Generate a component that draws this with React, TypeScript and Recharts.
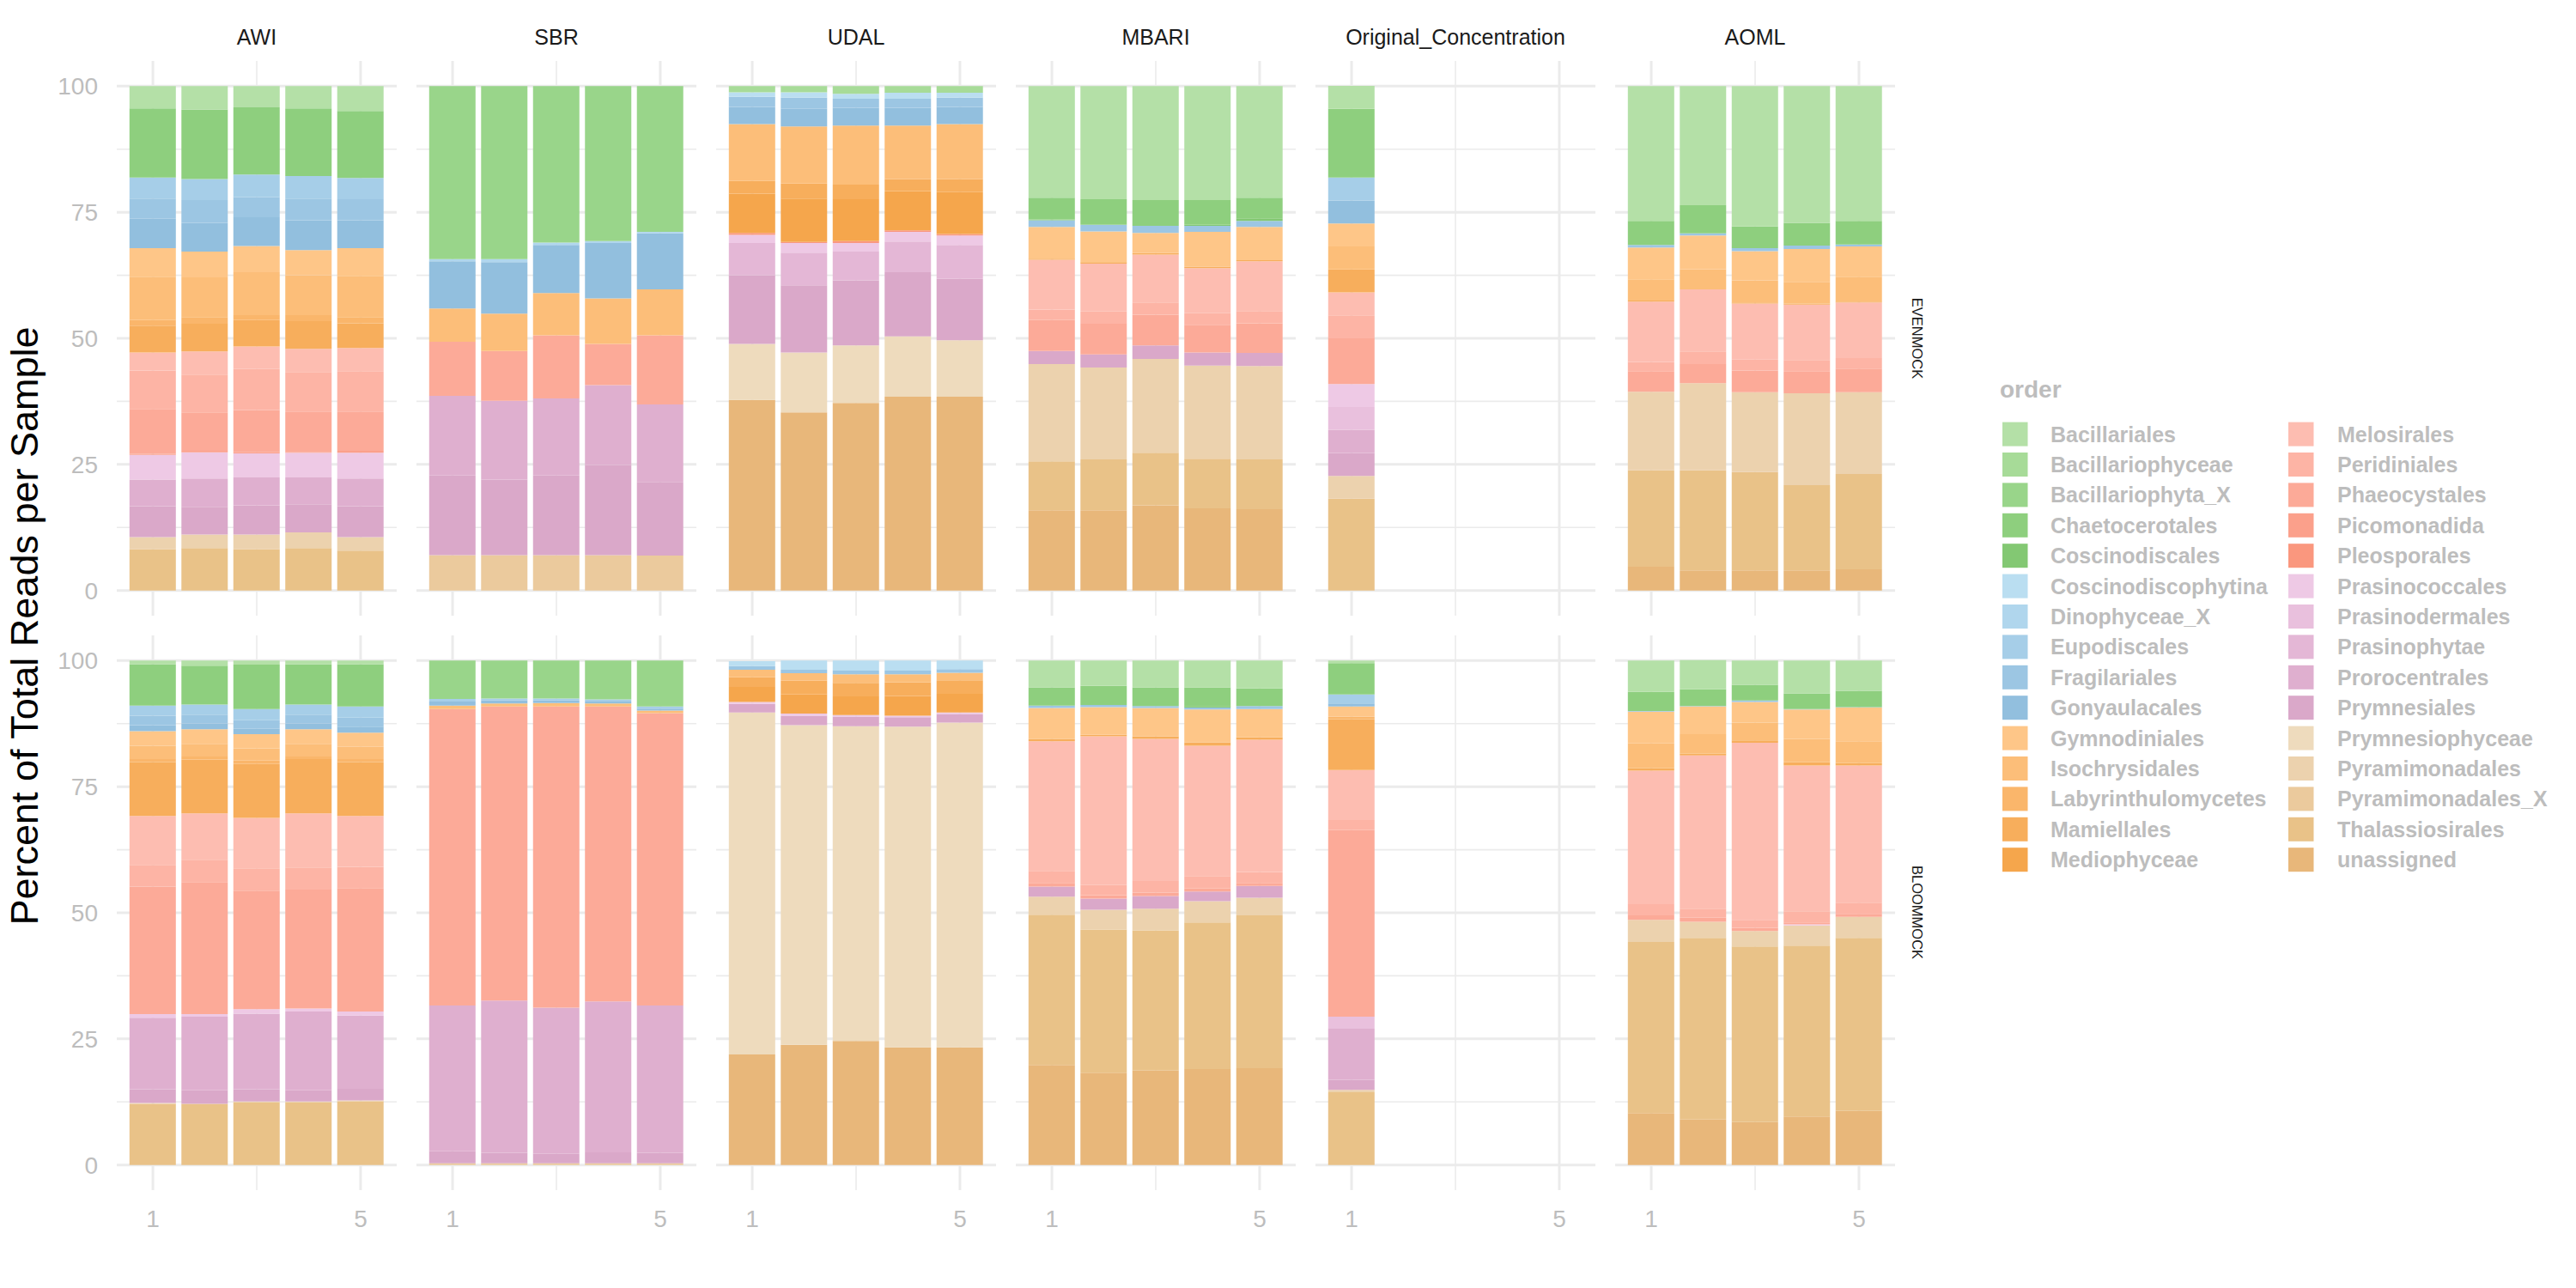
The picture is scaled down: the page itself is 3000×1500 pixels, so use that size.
import React from 'react';
import { BarChart, Bar, XAxis, YAxis, CartesianGrid } from 'recharts';

// stack order follows the legend: first entry sits on top of each bar
const orders = [
  'Bacillariales', 'Bacillariophyceae', 'Bacillariophyta_X', 'Chaetocerotales', 'Coscinodiscales',
  'Coscinodiscophytina', 'Dinophyceae_X', 'Eupodiscales', 'Fragilariales', 'Gonyaulacales',
  'Gymnodiniales', 'Isochrysidales', 'Labyrinthulomycetes', 'Mamiellales', 'Mediophyceae',
  'Melosirales', 'Peridiniales', 'Phaeocystales', 'Picomonadida', 'Pleosporales',
  'Prasinococcales', 'Prasinodermales', 'Prasinophytae', 'Prorocentrales', 'Prymnesiales',
  'Prymnesiophyceae', 'Pyramimonadales', 'Pyramimonadales_X', 'Thalassiosirales', 'unassigned',
];

const orderColors = [
  '#B4E0A7', '#A7DB98', '#99D58A', '#8ECF7E', '#83C873',
  '#BADEF1', '#B0D6ED', '#A6CEE8', '#9CC6E3', '#92BFDE',
  '#FEC688', '#FCBE79', '#FAB66B', '#F7AE5C', '#F5A64C',
  '#FDBDB1', '#FDB4A5', '#FCAA98', '#FBA08B', '#FA977E',
  '#EEC9E5', '#E9C0DD', '#E4B7D6', '#DFAFCF', '#DAA8C9',
  '#EEDBBD', '#ECD2AE', '#EBCA9D', '#E9C288', '#E8B77A',
];

const sites = ['AWI', 'SBR', 'UDAL', 'MBARI', 'Original_Concentration', 'AOML'];
const mocks = ['EVENMOCK', 'BLOOMMOCK'];
const samples = [1, 2, 3, 4, 5];
const yTicks = [0, 25, 50, 75, 100];
const yMinor = [12.5, 37.5, 62.5, 87.5];
const xTicks = [1, 5];
const xMinor = [3];

type Entry = [string, number[]];

// ---- EVENMOCK ----
const awiEven: Entry[] = [
  ['Bacillariales', [4.4, 4.6, 4.2, 4.4, 4.9]],
  ['Chaetocerotales', [13.7, 13.8, 13.3, 13.4, 13.3]],
  ['Eupodiscales', [4.2, 4.2, 4.5, 4.5, 4.2]],
  ['Fragilariales', [4.0, 4.5, 4.0, 4.3, 4.2]],
  ['Gonyaulacales', [5.8, 5.7, 5.7, 5.9, 5.5]],
  ['Gymnodiniales', [5.7, 5.1, 5.2, 5.0, 5.5]],
  ['Isochrysidales', [8.6, 7.9, 8.5, 7.9, 8.2]],
  ['Labyrinthulomycetes', [1.1, 1.3, 1.0, 1.2, 1.2]],
  ['Mamiellales', [5.3, 5.5, 5.2, 5.5, 4.9]],
  ['Melosirales', [3.6, 4.6, 4.5, 4.6, 4.6]],
  ['Peridiniales', [7.6, 7.5, 8.1, 7.8, 8.0]],
  ['Phaeocystales', [8.9, 7.6, 8.4, 8.0, 7.8]],
  ['Picomonadida', [0.2, 0.3, 0.2, 0.2, 0.4]],
  ['Prasinococcales', [4.9, 5.2, 4.8, 4.9, 5.1]],
  ['Prorocentrales', [5.3, 5.6, 5.5, 5.3, 5.5]],
  ['Prymnesiales', [6.1, 5.5, 5.8, 5.6, 6.1]],
  ['Pyramimonadales', [2.4, 2.7, 2.9, 3.1, 2.7]],
  ['Thalassiosirales', [8.2, 8.4, 8.2, 8.4, 7.9]],
];

const sbrEven: Entry[] = [
  ['Bacillariophyta_X', [34.3, 34.3, 31.0, 30.7, 28.9]],
  ['Dinophyceae_X', [0.4, 0.6, 0.5, 0.4, 0.3]],
  ['Gonyaulacales', [9.4, 10.2, 9.5, 11.0, 11.1]],
  ['Isochrysidales', [6.6, 7.4, 8.4, 9.0, 9.1]],
  ['Phaeocystales', [10.7, 9.9, 12.5, 8.2, 13.7]],
  ['Prorocentrales', [15.8, 15.6, 15.3, 15.8, 15.4]],
  ['Prymnesiales', [15.8, 15.0, 15.8, 17.9, 14.6]],
  ['Pyramimonadales_X', [7.0, 7.0, 7.0, 7.0, 6.9]],
];

const udalEven: Entry[] = [
  ['Bacillariophyceae', [1.2, 1.2, 1.5, 1.3, 1.3]],
  ['Coscinodiscophytina', [0.9, 1.1, 1.0, 1.2, 1.0]],
  ['Fragilariales', [2.0, 2.2, 1.8, 1.8, 1.8]],
  ['Gonyaulacales', [3.4, 3.5, 3.5, 3.5, 3.4]],
  ['Isochrysidales', [11.3, 11.3, 11.7, 10.6, 10.9]],
  ['Mamiellales', [2.5, 3.0, 2.9, 2.4, 2.6]],
  ['Mediophyceae', [7.8, 8.6, 8.3, 7.8, 8.3]],
  ['Pleosporales', [0.4, 0.2, 0.4, 0.3, 0.3]],
  ['Prasinococcales', [1.6, 1.9, 1.7, 1.9, 1.9]],
  ['Prasinophytae', [6.4, 6.5, 5.7, 6.1, 6.7]],
  ['Prymnesiales', [13.6, 13.3, 12.9, 12.7, 12.2]],
  ['Prymnesiophyceae', [11.1, 11.9, 11.4, 12.0, 11.2]],
  ['unassigned', [37.8, 35.3, 37.2, 38.4, 38.4]],
];

const mbariEven: Entry[] = [
  ['Bacillariales', [22.1, 22.4, 22.6, 22.6, 22.1]],
  ['Chaetocerotales', [4.3, 5.1, 5.1, 4.9, 4.1]],
  ['Coscinodiscales', [0.2, 0, 0, 0.2, 0.5]],
  ['Fragilariales', [1.3, 1.3, 1.4, 1.2, 1.2]],
  ['Gymnodiniales', [6.3, 6.1, 4.0, 6.9, 6.6]],
  ['Mamiellales', [0.2, 0.3, 0.3, 0.3, 0.2]],
  ['Melosirales', [9.9, 9.5, 9.5, 8.9, 9.9]],
  ['Peridiniales', [2.1, 2.4, 2.4, 2.3, 2.4]],
  ['Phaeocystales', [6.1, 6.1, 6.1, 5.5, 5.9]],
  ['Prymnesiales', [2.6, 2.6, 2.7, 2.6, 2.6]],
  ['Pyramimonadales', [19.3, 18.2, 18.6, 18.5, 18.5]],
  ['Thalassiosirales', [9.7, 10.1, 10.4, 9.8, 9.9]],
  ['unassigned', [15.9, 15.9, 16.9, 16.3, 16.1]],
];

const originalEven: Entry[] = [
  ['Bacillariales', [4.55]],
  ['Chaetocerotales', [13.64]],
  ['Eupodiscales', [4.55]],
  ['Gonyaulacales', [4.55]],
  ['Gymnodiniales', [4.55]],
  ['Isochrysidales', [4.55]],
  ['Mamiellales', [4.55]],
  ['Melosirales', [4.55]],
  ['Peridiniales', [4.55]],
  ['Phaeocystales', [9.09]],
  ['Prasinococcales', [4.55]],
  ['Prasinodermales', [4.55]],
  ['Prorocentrales', [4.55]],
  ['Prymnesiales', [4.55]],
  ['Pyramimonadales', [4.55]],
  ['Thalassiosirales', [18.18]],
];

const aomlEven: Entry[] = [
  ['Bacillariales', [26.7, 23.6, 27.8, 27.1, 26.7]],
  ['Chaetocerotales', [4.8, 5.6, 4.3, 4.5, 4.7]],
  ['Fragilariales', [0.5, 0.4, 0.6, 0.7, 0.4]],
  ['Gymnodiniales', [6.3, 6.7, 5.8, 6.5, 6.0]],
  ['Isochrysidales', [4.2, 4.0, 4.4, 4.3, 4.9]],
  ['Mamiellales', [0.2, 0, 0.2, 0.2, 0.2]],
  ['Melosirales', [12.0, 12.3, 11.1, 11.0, 11.0]],
  ['Peridiniales', [1.8, 2.5, 2.2, 2.2, 2.1]],
  ['Phaeocystales', [4.1, 3.8, 4.3, 4.4, 4.7]],
  ['Pyramimonadales', [15.6, 17.3, 15.8, 18.2, 16.2]],
  ['Thalassiosirales', [19.1, 19.8, 19.5, 16.9, 18.9]],
  ['unassigned', [4.7, 4.0, 4.0, 4.0, 4.2]],
];

// ---- BLOOMMOCK ----
const awiBloom: Entry[] = [
  ['Bacillariales', [0.7, 1.0, 0.8, 0.7, 0.7]],
  ['Chaetocerotales', [8.2, 7.7, 8.8, 8.0, 8.4]],
  ['Eupodiscales', [2.0, 2.0, 2.2, 2.0, 2.2]],
  ['Fragilariales', [1.9, 1.8, 1.7, 1.8, 1.8]],
  ['Gonyaulacales', [1.2, 1.1, 1.1, 1.1, 1.2]],
  ['Gymnodiniales', [2.9, 2.9, 2.8, 2.9, 2.8]],
  ['Isochrysidales', [2.6, 2.5, 2.4, 2.5, 2.4]],
  ['Labyrinthulomycetes', [0.6, 0.6, 0.7, 0.5, 0.6]],
  ['Mamiellales', [10.7, 10.7, 10.7, 10.8, 10.7]],
  ['Melosirales', [9.7, 9.2, 10.0, 10.7, 10.1]],
  ['Peridiniales', [4.3, 4.4, 4.4, 4.4, 4.2]],
  ['Phaeocystales', [25.3, 26.2, 23.5, 23.6, 24.5]],
  ['Prasinococcales', [0.7, 0.5, 0.9, 0.6, 0.8]],
  ['Prorocentrales', [14.2, 14.6, 15.0, 15.6, 14.5]],
  ['Prymnesiales', [2.7, 2.7, 2.4, 2.2, 2.3]],
  ['Pyramimonadales', [0.2, 0, 0.2, 0.2, 0.2]],
  ['Thalassiosirales', [12.1, 12.1, 12.4, 12.4, 12.6]],
];

const sbrBloom: Entry[] = [
  ['Bacillariophyta_X', [7.6, 7.5, 7.5, 7.7, 9.1]],
  ['Eupodiscales', [0.5, 0.4, 0.4, 0.4, 0.4]],
  ['Gonyaulacales', [0.8, 0.6, 0.5, 0.4, 0.4]],
  ['Isochrysidales', [0.7, 0.6, 0.7, 0.6, 0.5]],
  ['Phaeocystales', [58.8, 58.3, 59.7, 58.5, 58.0]],
  ['Prorocentrales', [28.9, 30.2, 29.0, 29.9, 29.2]],
  ['Prymnesiales', [2.4, 2.1, 1.9, 2.2, 2.1]],
  ['Pyramimonadales_X', [0.3, 0.3, 0.3, 0.3, 0.3]],
];

const udalBloom: Entry[] = [
  ['Coscinodiscophytina', [1.0, 1.8, 2.0, 2.0, 1.7]],
  ['Fragilariales', [0.7, 0.7, 0.7, 0.7, 0.7]],
  ['Isochrysidales', [1.5, 1.5, 1.7, 1.6, 1.5]],
  ['Mamiellales', [1.9, 2.7, 2.7, 2.7, 2.7]],
  ['Mediophyceae', [3.0, 3.8, 3.7, 3.9, 3.7]],
  ['Prasinococcales', [0.4, 0.4, 0.3, 0.3, 0.3]],
  ['Prymnesiales', [1.7, 1.9, 1.9, 1.9, 1.7]],
  ['Prymnesiophyceae', [67.8, 63.4, 62.4, 63.6, 64.4]],
  ['unassigned', [21.9, 23.8, 24.6, 23.3, 23.3]],
];

const mbariBloom: Entry[] = [
  ['Bacillariales', [5.3, 5.0, 5.3, 5.3, 5.5]],
  ['Chaetocerotales', [3.6, 3.8, 3.7, 3.7, 3.5]],
  ['Coscinodiscales', [0, 0, 0, 0.3, 0]],
  ['Fragilariales', [0.5, 0.4, 0.4, 0.4, 0.6]],
  ['Gymnodiniales', [6.1, 5.5, 5.6, 6.5, 5.6]],
  ['Mamiellales', [0.5, 0.3, 0.5, 0.7, 0.5]],
  ['Melosirales', [25.7, 29.5, 28.2, 25.8, 26.2]],
  ['Peridiniales', [2.4, 2.0, 2.3, 2.5, 2.2]],
  ['Phaeocystales', [0.7, 0.7, 0.7, 0.6, 0.6]],
  ['Prymnesiales', [2.0, 2.2, 2.5, 1.9, 2.3]],
  ['Pyramimonadales', [3.6, 3.9, 4.3, 4.2, 3.5]],
  ['Thalassiosirales', [29.8, 28.4, 27.8, 29.1, 30.3]],
  ['unassigned', [19.8, 18.3, 18.7, 19.0, 19.2]],
];

const originalBloom: Entry[] = [
  ['Bacillariales', [0.5]],
  ['Chaetocerotales', [6.2]],
  ['Eupodiscales', [1.8]],
  ['Gonyaulacales', [0.6]],
  ['Gymnodiniales', [2.0]],
  ['Labyrinthulomycetes', [0.5]],
  ['Mamiellales', [10.1]],
  ['Melosirales', [9.9]],
  ['Peridiniales', [2.0]],
  ['Phaeocystales', [37.0]],
  ['Prasinodermales', [2.4]],
  ['Prorocentrales', [10.1]],
  ['Prymnesiales', [2.0]],
  ['Pyramimonadales', [0.5]],
  ['Thalassiosirales', [14.4]],
];

const aomlBloom: Entry[] = [
  ['Bacillariales', [6.2, 5.8, 4.8, 6.5, 6.0]],
  ['Chaetocerotales', [3.8, 3.3, 3.1, 3.1, 3.2]],
  ['Fragilariales', [0.1, 0.1, 0.3, 0.1, 0.1]],
  ['Gymnodiniales', [6.3, 5.5, 4.1, 5.8, 6.7]],
  ['Isochrysidales', [4.9, 3.8, 3.5, 4.6, 4.3]],
  ['Mamiellales', [0.5, 0.4, 0.5, 0.7, 0.5]],
  ['Melosirales', [26.5, 30.4, 35.1, 28.9, 27.2]],
  ['Peridiniales', [2.2, 1.8, 1.6, 2.2, 2.2]],
  ['Phaeocystales', [0.9, 0.8, 0.6, 0.4, 0.6]],
  ['Prasinococcales', [0, 0, 0, 0.2, 0]],
  ['Pyramimonadales', [4.4, 3.2, 3.1, 4.0, 4.2]],
  ['Thalassiosirales', [33.9, 36.0, 34.8, 33.9, 34.3]],
  ['unassigned', [10.3, 9.0, 8.5, 9.6, 10.7]],
];

const evenPanels = [awiEven, sbrEven, udalEven, mbariEven, originalEven, aomlEven];
const bloomPanels = [awiBloom, sbrBloom, udalBloom, mbariBloom, originalBloom, aomlBloom];

// layout
const PANEL_X0 = 136;
const PANEL_W = 326;
const PANEL_STEP = 349;
const PANEL_H = 646;
const ROW_Y = [71, 739.5];
const Y_AXIS_W = 136;
const X_AXIS_H = 70;
const FONT = '"Liberation Sans", Arial, Helvetica, sans-serif';
const GRID = '#EBEBEB';
const MUTED = '#BDBDBD';

const stackOrder = [...orders].reverse();

function toRows(entries: Entry[]) {
  return samples.map((s) => {
    const row: Record<string, number> = { sample: s };
    orders.forEach((o) => {
      row[o] = 0;
    });
    entries.forEach(([o, vals]) => {
      row[o] = vals[s - 1] ?? 0;
    });
    return row;
  });
}

function Panel({ entries, col, row }: { entries: Entry[]; col: number; row: number }) {
  const showY = col === 0;
  const showX = row === 1;
  const left = PANEL_X0 + col * PANEL_STEP - (showY ? Y_AXIS_W : 0);
  const width = PANEL_W + (showY ? Y_AXIS_W : 0);
  const height = PANEL_H + (showX ? X_AXIS_H : 0);
  const data = toRows(entries);
  const tickStyle = { fill: MUTED, fontSize: 28, fontFamily: FONT };

  return (
    <div style={{ position: 'absolute', left, top: ROW_Y[row], width, height }}>
      <BarChart
        width={width}
        height={height}
        data={data}
        margin={{ top: 0, right: 0, bottom: 0, left: 0 }}
        barSize={54}
      >
        <CartesianGrid stroke={GRID} strokeWidth={1.6} horizontalValues={yMinor} verticalValues={xMinor} />
        <CartesianGrid stroke={GRID} strokeWidth={3} horizontalValues={yTicks} verticalValues={xTicks} />
        <XAxis
          dataKey="sample"
          type="number"
          domain={[0.305, 5.695]}
          ticks={xTicks}
          interval={0}
          allowDataOverflow
          hide={!showX}
          height={X_AXIS_H}
          axisLine={false}
          tickLine={false}
          tickSize={0}
          tickMargin={23}
          tick={tickStyle}
        />
        <YAxis
          type="number"
          domain={[-5, 105]}
          ticks={yTicks}
          interval={0}
          allowDataOverflow
          hide={!showY}
          width={Y_AXIS_W}
          axisLine={false}
          tickLine={false}
          tickSize={0}
          tickMargin={22}
          tick={tickStyle}
        />
        {stackOrder.map((o) => (
          <Bar
            key={o}
            dataKey={o}
            stackId="order"
            fill={orderColors[orders.indexOf(o)]}
            isAnimationActive={false}
          />
        ))}
      </BarChart>
    </div>
  );
}

function Overlay() {
  return (
    <svg
      width={3000}
      height={1500}
      style={{ position: 'absolute', left: 0, top: 0, fontFamily: FONT }}
    >
      {sites.map((s, i) => (
        <text
          key={s}
          x={PANEL_X0 + i * PANEL_STEP + PANEL_W / 2}
          y={52}
          textAnchor="middle"
          fontSize={25}
          fill="#1A1A1A"
        >
          {s}
        </text>
      ))}
      {mocks.map((m, r) => (
        <text
          key={m}
          transform={`translate(2233, ${ROW_Y[r] + PANEL_H / 2}) rotate(90)`}
          textAnchor="middle"
          dominantBaseline="central"
          fontSize={16.5}
          fill="#1A1A1A"
        >
          {m}
        </text>
      ))}
      <text transform="translate(44, 729) rotate(-90)" textAnchor="middle" fontSize={45} fill="#000">
        Percent of Total Reads per Sample
      </text>

      <text x={2329} y={463} fontSize={28} fontWeight="bold" fill={MUTED}>
        order
      </text>
      {orders.map((o, i) => {
        const c = Math.floor(i / 15);
        const r = i % 15;
        const cy = 505.6 + r * 35.4;
        return (
          <g key={o}>
            <rect x={c ? 2665 : 2332} y={cy - 14} width={29.5} height={28} fill={orderColors[i]} />
            <text x={c ? 2722 : 2388} y={cy + 9} fontSize={25} fontWeight="bold" fill={MUTED}>
              {o}
            </text>
          </g>
        );
      })}
    </svg>
  );
}

export default function App() {
  return (
    <div
      style={{
        position: 'absolute',
        left: 0,
        top: 0,
        width: 3000,
        height: 1500,
        background: '#FFFFFF',
        fontFamily: FONT,
      }}
    >
      <Overlay />
      {evenPanels.map((p, c) => (
        <Panel key={`e${c}`} entries={p} col={c} row={0} />
      ))}
      {bloomPanels.map((p, c) => (
        <Panel key={`b${c}`} entries={p} col={c} row={1} />
      ))}
    </div>
  );
}
